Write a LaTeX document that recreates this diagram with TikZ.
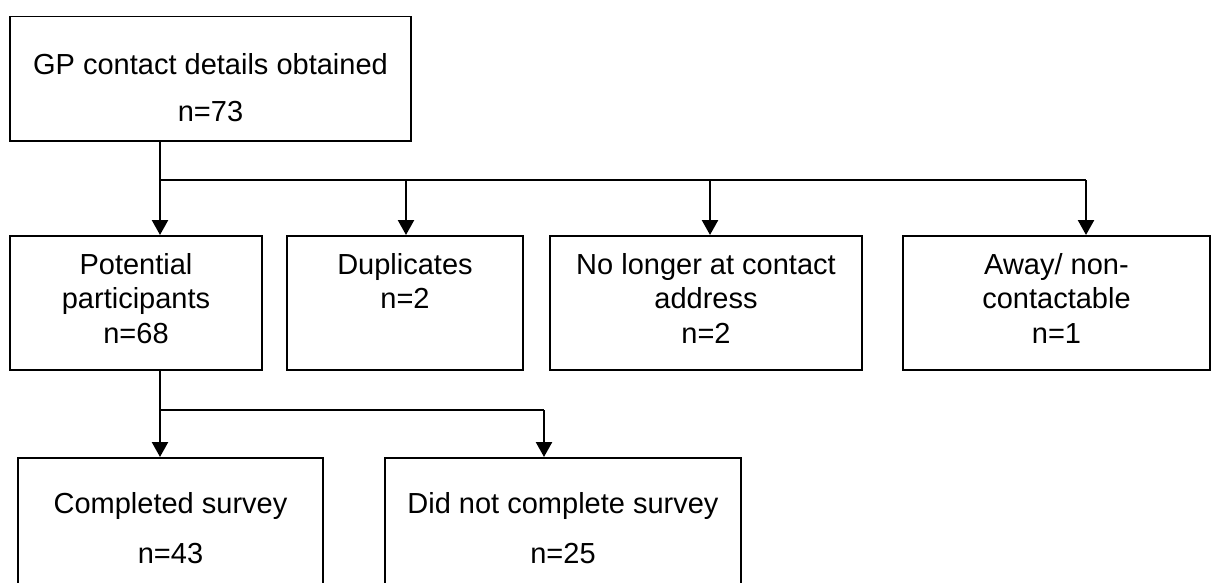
\documentclass[tikz,border=0pt]{standalone}
\usepackage{fontspec}
\setmainfont{Liberation Sans}
\usetikzlibrary{arrows.meta}

\begin{document}
\begin{tikzpicture}[x=1pt, y=-1pt,
    box/.style={draw, line width=1.5pt, align=center, inner sep=0pt, anchor=north},
    wide/.style={box, font=\fontsize{29}{47}\selectfont},
    tight/.style={box, font=\fontsize{29}{34.5}\selectfont, text height=107.4pt, text depth=26.6pt},
    arr/.style={line width=2.4pt, -{Triangle[width=16pt,length=15pt]}},
    link/.style={line width=1.7pt}]
    \useasboundingbox (0,0) rectangle (1212,583);
    \node[wide, minimum width=401pt, text height=104.4pt, text depth=19.6pt] (gp) at (210.5,16) {GP contact details obtained\\n=73};
    \node[tight, minimum width=252pt] (pot) at (136,235) {Potential\\participants\\n=68};
    \node[tight, minimum width=236pt, text height=72.9pt, text depth=61.1pt] (dup) at (405,235) {Duplicates\\n=2};
    \node[tight, minimum width=312pt] (addr) at (706,235) {No longer at contact\\address\\n=2};
    \node[tight, minimum width=307pt] (away) at (1056.5,235) {Away/ non-\\contactable\\n=1};
    \node[wide, minimum width=305pt, text height=105.4pt, text depth=37.6pt, font=\fontsize{29}{50}\selectfont] (done) at (170.5,457) {Completed survey\\n=43};
    \node[wide, minimum width=356pt, text height=105.4pt, text depth=37.6pt, font=\fontsize{29}{50}\selectfont] (notdone) at (563,457) {Did not complete survey\\n=25};
    % branch points
    \coordinate (c1) at (160,180);
    \coordinate (dupx) at (406,180);
    \coordinate (addrx) at (710,180);
    \coordinate (awayx) at (1086,180);
    \coordinate (c2) at (160,410);
    \coordinate (notx) at (544,410);
    \draw[arr] (gp.south -| c1) -- (pot.north -| c1);
    \draw[link] (c1) -- (awayx);
    \foreach \n/\c in {dup/dupx, addr/addrx, away/awayx}
      \draw[arr] (\c) -- (\n.north -| \c);
    \draw[arr] (pot.south -| c2) -- (done.north -| c2);
    \draw[link] (c2) -- (notx);
    \draw[arr] (notx) -- (notdone.north -| notx);
\end{tikzpicture}
\end{document}
